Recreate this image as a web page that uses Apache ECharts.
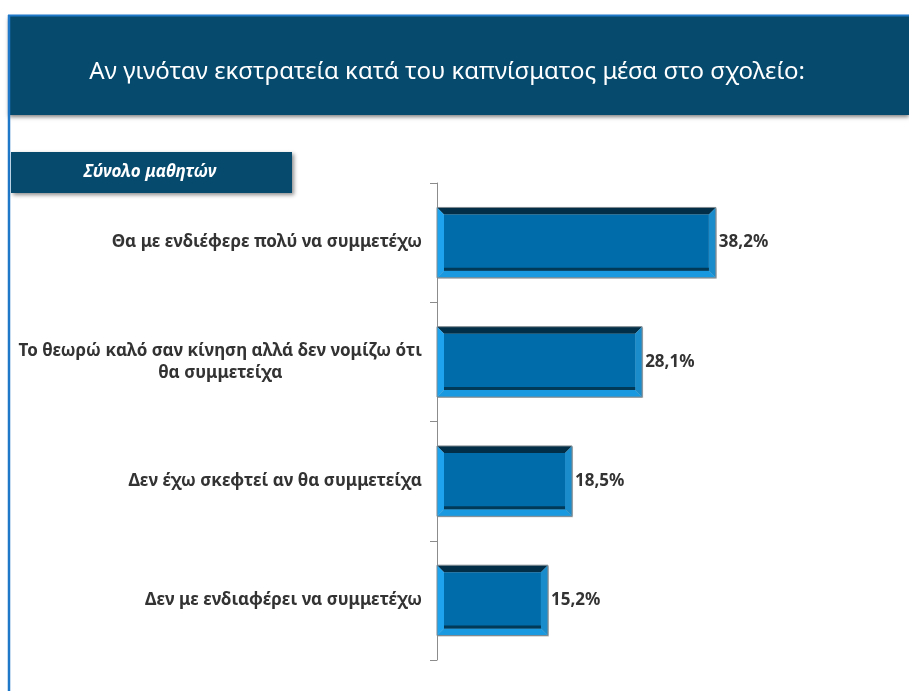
<!DOCTYPE html>
<html><head><meta charset="utf-8">
<script src="https://cdn.jsdelivr.net/npm/echarts@6/dist/echarts.min.js"></script>
<style>html,body{margin:0;padding:0;background:#fff}#c{width:909px;height:691px}</style>
</head><body><div id="c"></div>
<script>
var titleText = 'Αν γινόταν εκστρατεία κατά του καπνίσματος μέσα στο σχολείο:';
var subtitleText = 'Σύνολο μαθητών';
var categories = [
  'Θα με ενδιέφερε πολύ να συμμετέχω',
  'Το θεωρώ καλό σαν κίνηση αλλά δεν νομίζω ότι\nθα συμμετείχα',
  'Δεν έχω σκεφτεί αν θα συμμετείχα',
  'Δεν με ενδιαφέρει να συμμετέχω'
];
var values = [38.2, 28.1, 18.5, 15.2];
var valueLabels = ['38,2%', '28,1%', '18,5%', '15,2%'];

var chart = echarts.init(document.getElementById('c'));
var FONT = "'Noto Sans', 'Open Sans', sans-serif";

function renderBar(params, api) {
  var idx = api.value(0);
  var v = api.value(1);
  var start = api.coord([0, idx]);
  var end = api.coord([v, idx]);
  var h = api.size([0, 1])[1] * 0.59;
  var x0 = start[0], x1 = end[0], y0 = start[1] - h / 2, y1 = start[1] + h / 2;
  var b = 7;
  var poly = function (pts, fill) {
    return { type: 'polygon', shape: { points: pts }, style: { fill: fill } };
  };
  return {
    type: 'group',
    children: [
      { type: 'rect', shape: { x: x0 + 1, y: y0 + 1, width: x1 - x0, height: y1 - y0 }, style: { fill: 'rgba(0,0,0,0.25)' } },
      poly([[x0, y0], [x1, y0], [x1 - b, y0 + b], [x0 + b, y0 + b]], '#022f47'),
      poly([[x0, y0], [x0 + b, y0 + b], [x0 + b, y1 - b], [x0, y1]], '#1ea4ef'),
      poly([[x0, y1], [x0 + b, y1 - b], [x1 - b, y1 - b], [x1, y1]], '#1899e0'),
      poly([[x1, y0], [x1 - b, y0 + b], [x1 - b, y1 - b], [x1, y1]], '#1a8ccc'),
      { type: 'rect', shape: { x: x0 + b, y: y0 + b, width: x1 - x0 - 2 * b, height: y1 - y0 - 2 * b }, style: { fill: '#006daa' } },
      { type: 'rect', shape: { x: x0 + b, y: y1 - b - 3, width: x1 - x0 - 2 * b, height: 3 }, style: { fill: '#013a58' } },
      { type: 'rect', shape: { x: x0, y: y0, width: x1 - x0, height: y1 - y0 }, style: { fill: 'none', stroke: '#7f8a90', lineWidth: 1 } },
      { type: 'text', x: x1 + 3, y: start[1], style: { text: valueLabels[idx], fill: '#333', font: 'bold 17px ' + FONT, verticalAlign: 'middle', align: 'left' } }
    ]
  };
}

chart.setOption({
  animation: false,
  graphic: [
    { type: 'rect', shape: { x: 9, y: 16, width: 900, height: 99 }, style: { fill: '#064a6e', shadowBlur: 4, shadowOffsetY: 2, shadowColor: 'rgba(0,0,0,0.5)' } },
    { type: 'line', shape: { x1: 8, y1: 15.5, x2: 909, y2: 15.5 }, style: { stroke: '#1f78c8', lineWidth: 2 } },
    { type: 'line', shape: { x1: 9, y1: 15, x2: 9, y2: 691 }, style: { stroke: '#1f78c8', lineWidth: 2.5 } },
    { type: 'text', x: 447, y: 72, style: { text: titleText, fill: '#fff', font: '24px ' + FONT, align: 'center', verticalAlign: 'middle' } },
    { type: 'rect', shape: { x: 11, y: 152, width: 281, height: 41 }, style: { fill: '#064a6e', shadowBlur: 4, shadowOffsetX: 2, shadowOffsetY: 2, shadowColor: 'rgba(0,0,0,0.45)' } },
    { type: 'text', x: 150, y: 172, style: { text: subtitleText, fill: '#fff', font: 'italic bold 17px ' + FONT, align: 'center', verticalAlign: 'middle' } }
  ],
  grid: { left: 437, top: 183, width: 365, height: 477, containLabel: false },
  xAxis: { type: 'value', min: 0, max: 50, show: false },
  yAxis: {
    type: 'category', inverse: true, data: categories,
    axisLine: { show: true, lineStyle: { color: '#8c8c8c', width: 1 } },
    axisTick: { show: true, length: 7, lineStyle: { color: '#8c8c8c' } },
    axisLabel: {
      margin: 15, color: '#333', fontFamily: FONT, fontWeight: 'bold', fontSize: 17, lineHeight: 22,
      formatter: function (val) {
        var parts = val.split('\n');
        if (parts.length === 1) return val;
        return parts[0] + '\n{c|' + parts[1] + '}';
      },
      rich: { c: { align: 'center', color: '#333', fontFamily: FONT, fontWeight: 'bold', fontSize: 17, lineHeight: 22 } }
    }
  },
  series: [{
    type: 'custom',
    renderItem: renderBar,
    encode: { x: 1, y: 0 },
    data: values.map(function (v, i) { return [i, v]; })
  }]
});
</script>
</body></html>
